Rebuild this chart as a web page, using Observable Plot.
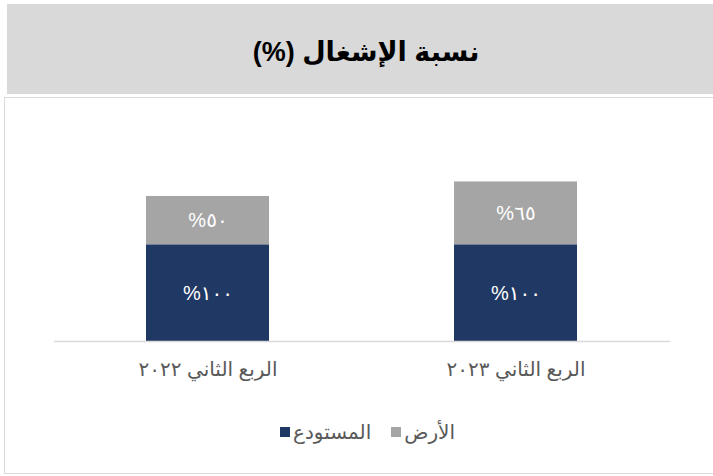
<!DOCTYPE html>
<html><head><meta charset="utf-8">
<script src="https://cdn.jsdelivr.net/npm/d3@7"></script>
<script src="https://cdn.jsdelivr.net/npm/@observablehq/plot@0.6"></script>
<style>
body{margin:0;width:713px;height:476px;position:relative;overflow:hidden;background:#fff;font-family:Arial,"DejaVu Sans",sans-serif;}
#title{position:absolute;left:7px;top:4px;width:706px;height:90px;background:#d9d9d9;display:flex;align-items:center;justify-content:center;font-weight:bold;font-size:27px;color:#000;direction:rtl;padding-left:12px;padding-top:5px;box-sizing:border-box}
#box{position:absolute;left:4px;top:97px;width:720px;height:377px;border:1px solid #d9d9d9;box-sizing:border-box;}
#chart{position:absolute;left:0;top:97px;}
#legend{position:absolute;left:11px;top:420px;width:713px;display:flex;justify-content:center;direction:rtl;font-size:20px;color:#595959;align-items:center}
.item{display:flex;align-items:center;margin-left:20px}
.item:last-child{margin-left:0}
.sw{width:10px;height:10px;display:inline-block;margin-right:3px}
</style></head>
<body>
<div id="title">نسبة الإشغال (%)</div>
<div id="box"></div>
<div id="chart"></div>
<div id="legend"></div>
<script>
const categories = ["الربع الثاني ٢٠٢٢", "الربع الثاني ٢٠٢٣"];
const series = ["المستودع", "الأرض"];
const colors = ["#203864", "#a5a5a5"];
const warehouse = [100, 100];
const land = [50, 65];
const legendOrder = ["الأرض", "المستودع"];

const ar = v => String(v).replace(/\d/g, d => "٠١٢٣٤٥٦٧٨٩"[d]);
const data = categories.flatMap((c, i) => [
  {cat: c, series: series[0], value: warehouse[i]},
  {cat: c, series: series[1], value: land[i]}
]);

const plot = Plot.plot({
  width: 713, height: 300,
  marginLeft: 54, marginRight: 43, marginTop: 0, marginBottom: 56,
  style: {fontFamily: "Arial, 'DejaVu Sans', sans-serif", background: "transparent"},
  x: {domain: categories, paddingInner: 0.6, paddingOuter: 0.3, label: null},
  y: {domain: [0, 200], range: [244, 50.6], axis: null},
  color: {domain: series, range: colors},
  marks: [
    Plot.barY(data, {x: "cat", y: "value", fill: "series"}),
    Plot.ruleY([0], {stroke: "#d9d9d9", strokeWidth: 1.5}),
    Plot.text(data, Plot.stackY({x: "cat", y: "value", z: "series", text: d => "%" + ar(d.value), fill: "white", fontSize: 20, letterSpacing: "1px"})),
    Plot.axisX({tickSize: 0, tickPadding: 20, fontSize: 20, fill: "#595959", label: null})
  ]
});
document.getElementById("chart").appendChild(plot);

const lg = document.getElementById("legend");
legendOrder.forEach(s => {
  const it = document.createElement("span");
  it.className = "item";
  const t = document.createElement("span");
  t.textContent = s;
  const sw = document.createElement("span");
  sw.className = "sw";
  sw.style.background = colors[series.indexOf(s)];
  it.appendChild(t); it.appendChild(sw);
  lg.appendChild(it);
});
</script>
</body></html>
